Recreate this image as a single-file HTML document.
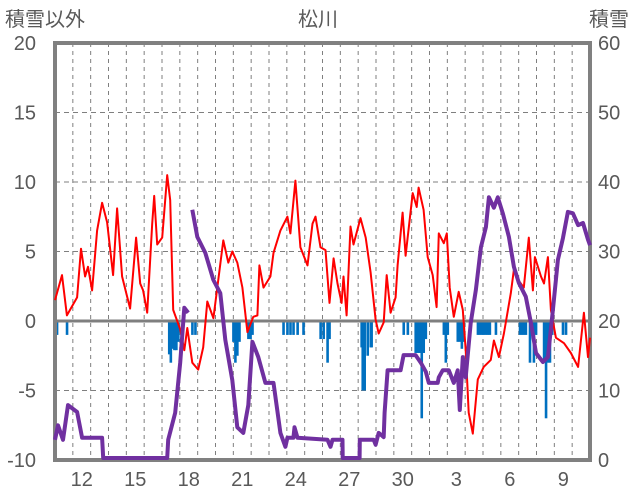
<!DOCTYPE html>
<html><head><meta charset="utf-8">
<style>
html,body{margin:0;padding:0;background:#fff;}
svg{display:block;font-family:"Liberation Sans","Noto Sans CJK JP",sans-serif;}
</style></head>
<body>
<svg id="chart" width="636" height="501" viewBox="0 0 636 501">
<text x="5" y="26" font-size="20" fill="#595959">積雪以外</text>
<text x="318" y="26" font-size="20" fill="#595959" text-anchor="middle">松川</text>
<text x="589" y="26" font-size="20" fill="#595959">積雪</text>
<g id="grid"></g><g id="bars"></g><g id="frame"></g><g id="lines"></g><g id="labels"></g>
</svg>
<script>
const xTickLabels=["12","15","18","21","24","27","30","3","6","9"];
const xTickDays=[1,4,7,10,13,16,19,22,25,28];
const leftTicks=[20,15,10,5,0,-5,-10];
const rightTicks=[60,50,40,30,20,10,0];
const tempT=[0,0.39,0.67,1.24,1.46,1.69,1.85,2.08,2.36,2.64,2.92,3.26,3.48,3.76,4.21,4.55,4.78,4.94,5.17,5.45,5.56,5.73,6.01,6.29,6.46,6.63,7.02,7.25,7.42,7.70,8.03,8.31,8.54,8.88,9.10,9.44,9.72,9.94,10.22,10.51,10.79,11.12,11.35,11.46,11.69,12.08,12.25,12.64,13.03,13.20,13.48,13.76,14.16,14.44,14.61,14.89,15.17,15.39,15.62,15.84,16.07,16.18,16.35,16.57,16.74,17.13,17.42,17.70,17.98,18.15,18.43,18.60,18.82,19.10,19.21,19.49,19.66,20.06,20.28,20.39,20.67,20.90,21.18,21.40,21.52,21.80,21.97,22.13,22.36,22.64,22.87,23.03,23.20,23.43,23.71,24.04,24.44,24.61,24.89,25.17,25.56,25.73,26.01,26.29,26.57,26.80,26.91,27.25,27.42,27.64,27.81,28.09,28.54,28.93,29.33,29.66,29.89,30];
const tempV=[1.5,3.3,0.4,1.7,5.2,3.2,3.9,2.2,6.5,8.5,7.1,3.3,8.1,3.2,0.9,6.0,2.7,2.2,0.6,7,9,5.5,6.0,10.5,8.7,0.8,-0.6,-2.1,-0.5,-3.0,-3.5,-1.9,1.4,0.2,2.4,5.8,4.2,5,4.2,2.4,-0.8,0.3,0.4,4,2.4,3.2,4.9,6.5,7.5,6.3,10.1,5.3,4.0,7,7.5,5.3,5.1,1.3,4.5,2.7,1.3,3.2,0.4,6.8,5.5,7.4,6,3.5,0.1,-0.9,-0.1,3.3,0.6,1.7,4.0,7.8,4.7,9.2,8.2,9.6,8,4.6,3.3,1.0,6.3,5.6,6.3,2.4,0.3,2.1,0.8,-2.1,-6.6,-8.1,-4.2,-3.3,-2.8,-1.4,-2.6,-0.9,2.0,3.7,2.9,2.4,6,2.2,4.6,3.2,2.7,4.6,0.8,-1.2,-1.6,-2.3,-3.3,0.6,-2.6,-1.2];
const snowT=[0,0.17,0.45,0.73,1.24,1.52,2.64,2.70,6.29,6.35,6.74,7.02,7.25,7.47,null,7.70,7.98,8.43,8.88,9.27,9.55,9.94,10.22,10.56,10.84,11.07,11.40,11.80,12.25,12.64,12.92,13.03,13.37,13.43,13.60,15.28,15.45,15.56,16.12,16.13,17.08,17.09,17.87,17.98,18.15,18.43,18.48,18.65,18.82,19.38,19.55,20.22,20.51,20.79,20.96,21.46,21.52,21.74,22.08,22.36,22.58,22.70,22.87,23.03,23.31,23.60,23.88,24.16,24.33,24.61,24.83,25.11,25.45,25.73,26.01,26.40,26.69,26.97,27.36,27.64,27.92,28.20,28.48,28.76,29.04,29.33,29.61,29.89,30];
const snowV=[2.9,5,2.9,7.9,6.9,3.2,3.2,0,0,2.9,6.8,14,21.9,21.2,null,36,32.1,29.8,25.9,24,17.3,11.5,4.7,3.9,7.9,17,14.8,11.1,11.1,3.9,1.9,3.2,3.2,4.7,3.2,2.9,1.9,2.9,2.9,0,0,2.9,2.9,2.2,3.9,3.3,6.8,12.9,12.9,12.9,15.1,15.1,14,12.7,11.1,11.1,11.9,12.9,12.9,11.1,12.9,7.2,14.8,11.9,19.7,24.5,30.6,33.5,37.8,36.3,37.8,35.5,32.1,27.8,25.5,23.5,19.7,15.4,14.1,14.8,21.6,28.8,31.9,35.7,35.5,33.8,34.1,31.7,30.9];
const precT=[0.11,0.67,6.40,6.49,6.57,6.69,6.80,6.91,7.70,7.87,10.00,10.11,10.22,10.34,10.84,10.96,11.07,12.81,13.03,13.20,13.37,13.60,13.93,14.89,15.06,15.28,15.39,17.19,17.25,17.36,17.53,17.70,17.75,19.55,19.78,20.22,20.34,20.45,20.56,20.67,20.79,21.80,21.91,22.02,22.58,22.70,22.81,22.92,23.71,23.82,23.94,24.04,24.16,24.27,24.38,24.72,26.07,26.18,26.29,26.40,26.63,26.74,26.85,26.97,27.42,27.53,27.64,27.75,27.87,28.48,28.65];
const precV=[-1,-1,-2.4,-3,-2,-2.1,-2.1,-1.5,-1,-1,-1.5,-3,-2.5,-1.5,-1.3,-1.3,-1,-1,-1,-1,-1,-1,-1,-1.3,-1.3,-3,-1.3,-1.9,-5,-5,-2.5,-1.9,-1.9,-1,-1,-2.3,-2.3,-2.3,-7,-2.3,-1.3,-1,-3,-1,-1.5,-1.5,-2,-1.5,-1,-1,-1,-1,-1,-1,-1,-1,-1,-1,-1,-1,-3,-1,-3,-1,-3,-7,-3,-3,-1,-1,-1];

const X0=55,X1=590,Y0=43,Y1=460,NDAYS=30;
const xS=d=>X0+(X1-X0)*d/NDAYS;
const yL=v=>Y1-(v+10)/30*(Y1-Y0);
const yR=v=>Math.min(Y1-2,Y1-v/60*(Y1-Y0));
const NS="http://www.w3.org/2000/svg";
function mk(tag,parent,attrs){const e=document.createElementNS(NS,tag);for(const k in attrs)e.setAttribute(k,attrs[k]);parent.appendChild(e);return e;}
const grid=document.getElementById('grid'),bars=document.getElementById('bars'),lines=document.getElementById('lines'),frame=document.getElementById('frame'),labels=document.getElementById('labels');
for(let d=1;d<NDAYS;d++){
  const l=mk('line',grid,{x1:xS(d),x2:xS(d),y1:Y0,y2:Y1,stroke:'#7f7f7f','stroke-width':1,'stroke-dasharray':'4,4'});
  
  
}
leftTicks.forEach(v=>{
  if(v!==0&&v!==20&&v!==-10){
    const l=mk('line',grid,{x1:X0,x2:X1,y1:yL(v),y2:yL(v),stroke:'#7f7f7f','stroke-width':1,'stroke-dasharray':'5,4'});
    
    
  }
  const t=mk('text',labels,{x:36,y:yL(v)+7,'font-size':20,fill:'#595959','text-anchor':'end'});
  t.textContent=v;
  
  
});
rightTicks.forEach(v=>{
  const t=mk('text',labels,{x:598,y:Y1-v/60*(Y1-Y0)+7,'font-size':20,fill:'#595959'});
  t.textContent=v;
  
  
});
xTickLabels.forEach((s,i)=>{
  const t=mk('text',labels,{x:xS(xTickDays[i]+0.5),y:486,'font-size':20,fill:'#595959','text-anchor':'middle'});
  t.textContent=s;
  
  
});
precT.forEach((t,i)=>{
  const y0=yL(0),y1=yL(precV[i]);
  const r=mk('rect',bars,{x:xS(t)-1.2,y:Math.min(y0,y1),width:2.6,height:Math.abs(y1-y0),fill:'#0070c0'});
  
  
});
const zl=mk('line',bars,{x1:X0,x2:X1,y1:yL(0),y2:yL(0),stroke:'#7f7f7f','stroke-width':3});


function pathOf(T,V,yf){let d='',pen=false;T.forEach((t,i)=>{if(t===null||V[i]===null){pen=false;return;}d+=(pen?'L':'M')+xS(t).toFixed(1)+','+yf(V[i]).toFixed(1);pen=true;});return d;}
const fr=mk('rect',frame,{x:X0,y:Y0,width:X1-X0,height:Y1-Y0,fill:'none',stroke:'#808080','stroke-width':4});


const red=mk('path',lines,{d:pathOf(tempT,tempV,yL),fill:'none',stroke:'#ff0000','stroke-width':2,'stroke-linejoin':'round'});


const pur=mk('path',lines,{d:pathOf(snowT,snowV,yR),fill:'none',stroke:'#7030a0','stroke-width':4,'stroke-linejoin':'round'});


</script>
</body></html>
